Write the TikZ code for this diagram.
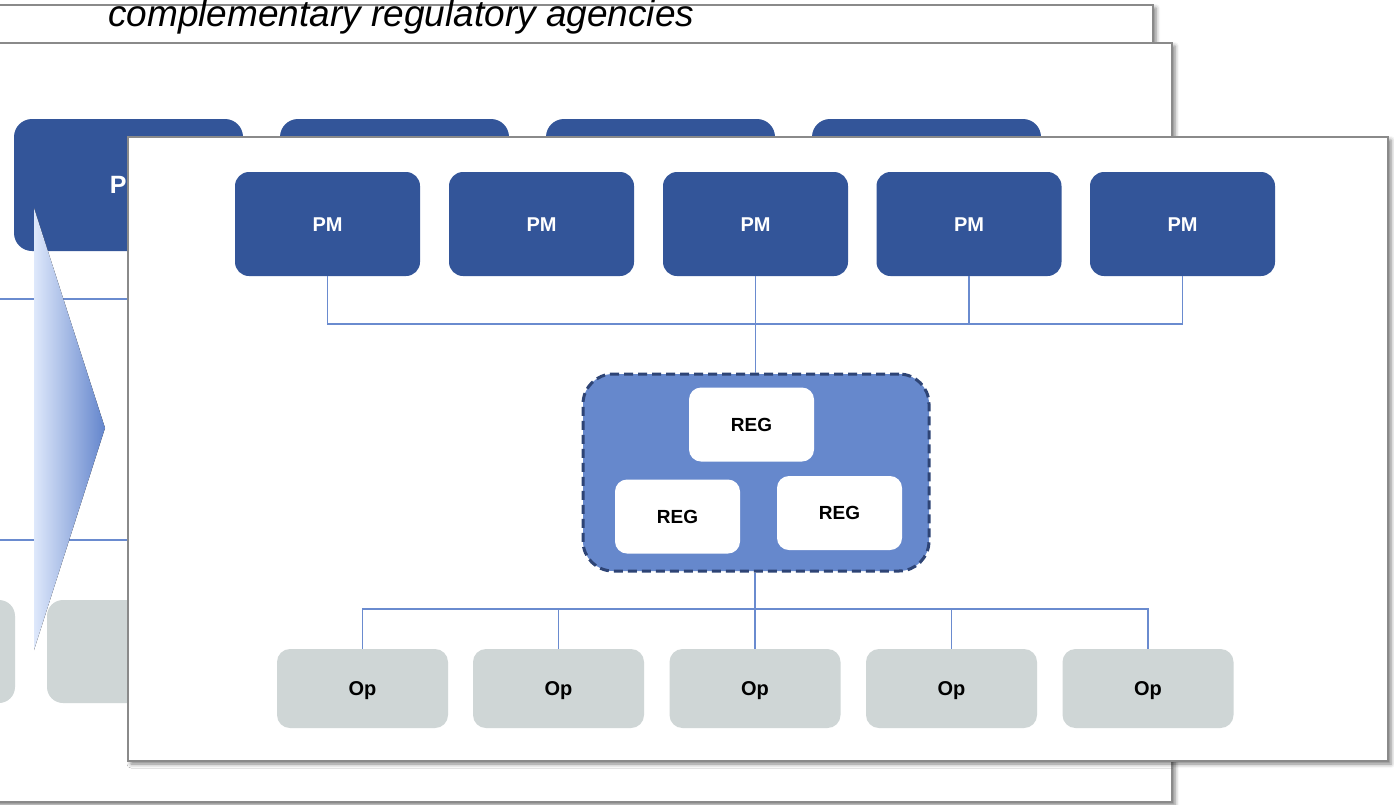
\documentclass[tikz,border=0pt]{standalone}
\usepackage{fontspec}
\setmainfont{Liberation Sans}
\usetikzlibrary{shadows.blur}

\definecolor{pmblue}{HTML}{335599}
\definecolor{grpblue}{HTML}{6688CC}
\definecolor{grpedge}{HTML}{2E4475}
\definecolor{opgray}{HTML}{CFD6D6}
\definecolor{linkblue}{HTML}{6A8BCF}
\definecolor{frame}{HTML}{8A8A8A}
\definecolor{arrowlight}{HTML}{DEE8FB}
\definecolor{arrowdark}{HTML}{6385CC}

\tikzset{
  sheet/.style={draw=frame, line width=2.6pt, fill=white,
    blur shadow={shadow xshift=3pt, shadow yshift=-3pt, shadow blur radius=4pt, shadow opacity=50}},
  pmbox/.style={rectangle, rounded corners=14pt, fill=pmblue, text=white, inner sep=0pt,
    minimum width=185pt, minimum height=104pt, text height=14.3pt, text depth=0pt,
    font=\fontsize{20}{24}\selectfont\bfseries},
  pmbig/.style={rectangle, rounded corners=18pt, fill=pmblue, text=white, inner sep=0pt,
    minimum width=229pt, minimum height=132pt, text height=17.9pt, text depth=0pt,
    font=\fontsize{25}{30}\selectfont\bfseries},
  opbox/.style={rectangle, rounded corners=13pt, fill=opgray, text=black, inner sep=0pt,
    minimum width=171pt, minimum height=79pt, text height=14.3pt, text depth=0pt,
    font=\fontsize{20}{24}\selectfont\bfseries},
  opbig/.style={rectangle, rounded corners=16pt, fill=opgray, inner sep=0pt,
    minimum width=212pt, minimum height=103pt},
  regbox/.style={rectangle, rounded corners=12pt, fill=white, text=black, inner sep=0pt,
    minimum width=125pt, minimum height=74pt, text height=13.6pt, text depth=0pt,
    font=\fontsize{19}{23}\selectfont\bfseries},
  group/.style={rectangle, rounded corners=30pt, fill=grpblue, draw=grpedge, line width=3pt,
    dash pattern=on 9pt off 5pt, inner sep=0pt, minimum width=346pt, minimum height=197pt},
  link/.style={draw=linkblue, line width=1.9pt},
}

\begin{document}
\begin{tikzpicture}[x=1pt, y=-1pt]
\useasboundingbox (0,0) rectangle (1394,804);

% back sheet with its heading
\draw[sheet] (-20,5) rectangle (1153,80);
\node[anchor=base west, inner sep=0pt, font=\fontsize{37}{40}\selectfont\itshape]
  (title) at (108,26) {complementary regulatory agencies};

% middle sheet
\draw[sheet] (-20,43) rectangle (1172,802);
\draw[link] (-20,299) -- (128,299);
\draw[link] (-20,540) -- (128,540);
\node[pmbig] (bpm1) at (128.5,185) {PM};
\node[pmbig] (bpm2) at (394.5,185) {};
\node[pmbig] (bpm3) at (660.5,185) {};
\node[pmbig] (bpm4) at (926.5,185) {};
\node[opbig] (bop1) at (-91,651.5) {};
\node[opbig] (bop2) at (153,651.5) {};

% transition arrow
\fill[left color=arrowlight, right color=arrowdark] (34,208) -- (105,428) -- (34,650) -- cycle;

% front sheet
\draw[sheet] (128,137) rectangle (1388,761);

\node[pmbox] (pm1) at (327.5,224) {PM};
\node[pmbox] (pm2) at (541.5,224) {PM};
\node[pmbox] (pm3) at (755.5,224) {PM};
\node[pmbox] (pm4) at (969,224) {PM};
\node[pmbox] (pm5) at (1182.5,224) {PM};

\node[group] (grp) at (756,472.5) {};
\node[regbox] (reg1) at (751.5,424.5) {REG};
\node[regbox] (reg2) at (677.5,516.5) {REG};
\node[regbox] (reg3) at (839.5,513) {REG};

\node[opbox] (op1) at (362.5,688.5) {Op};
\node[opbox] (op2) at (558.5,688.5) {Op};
\node[opbox] (op3) at (755,688.5) {Op};
\node[opbox] (op4) at (951.5,688.5) {Op};
\node[opbox] (op5) at (1148,688.5) {Op};

% buses
\coordinate (busT) at (0,324);
\coordinate (busB) at (0,609);

\draw[link] (pm1.south) -- (pm1.south |- busT) -- (pm5.south |- busT) -- (pm5.south);
\draw[link] (pm4.south) -- (pm4.south |- busT);
\draw[link] (pm3.south) -- (grp.north -| pm3.south);

\draw[link] (grp.south -| op3.north) -- (op3.north);
\draw[link] (op1.north) -- (op1.north |- busB) -- (op5.north |- busB) -- (op5.north);
\draw[link] (op2.north) -- (op2.north |- busB);
\draw[link] (op4.north) -- (op4.north |- busB);
\end{tikzpicture}
\end{document}
